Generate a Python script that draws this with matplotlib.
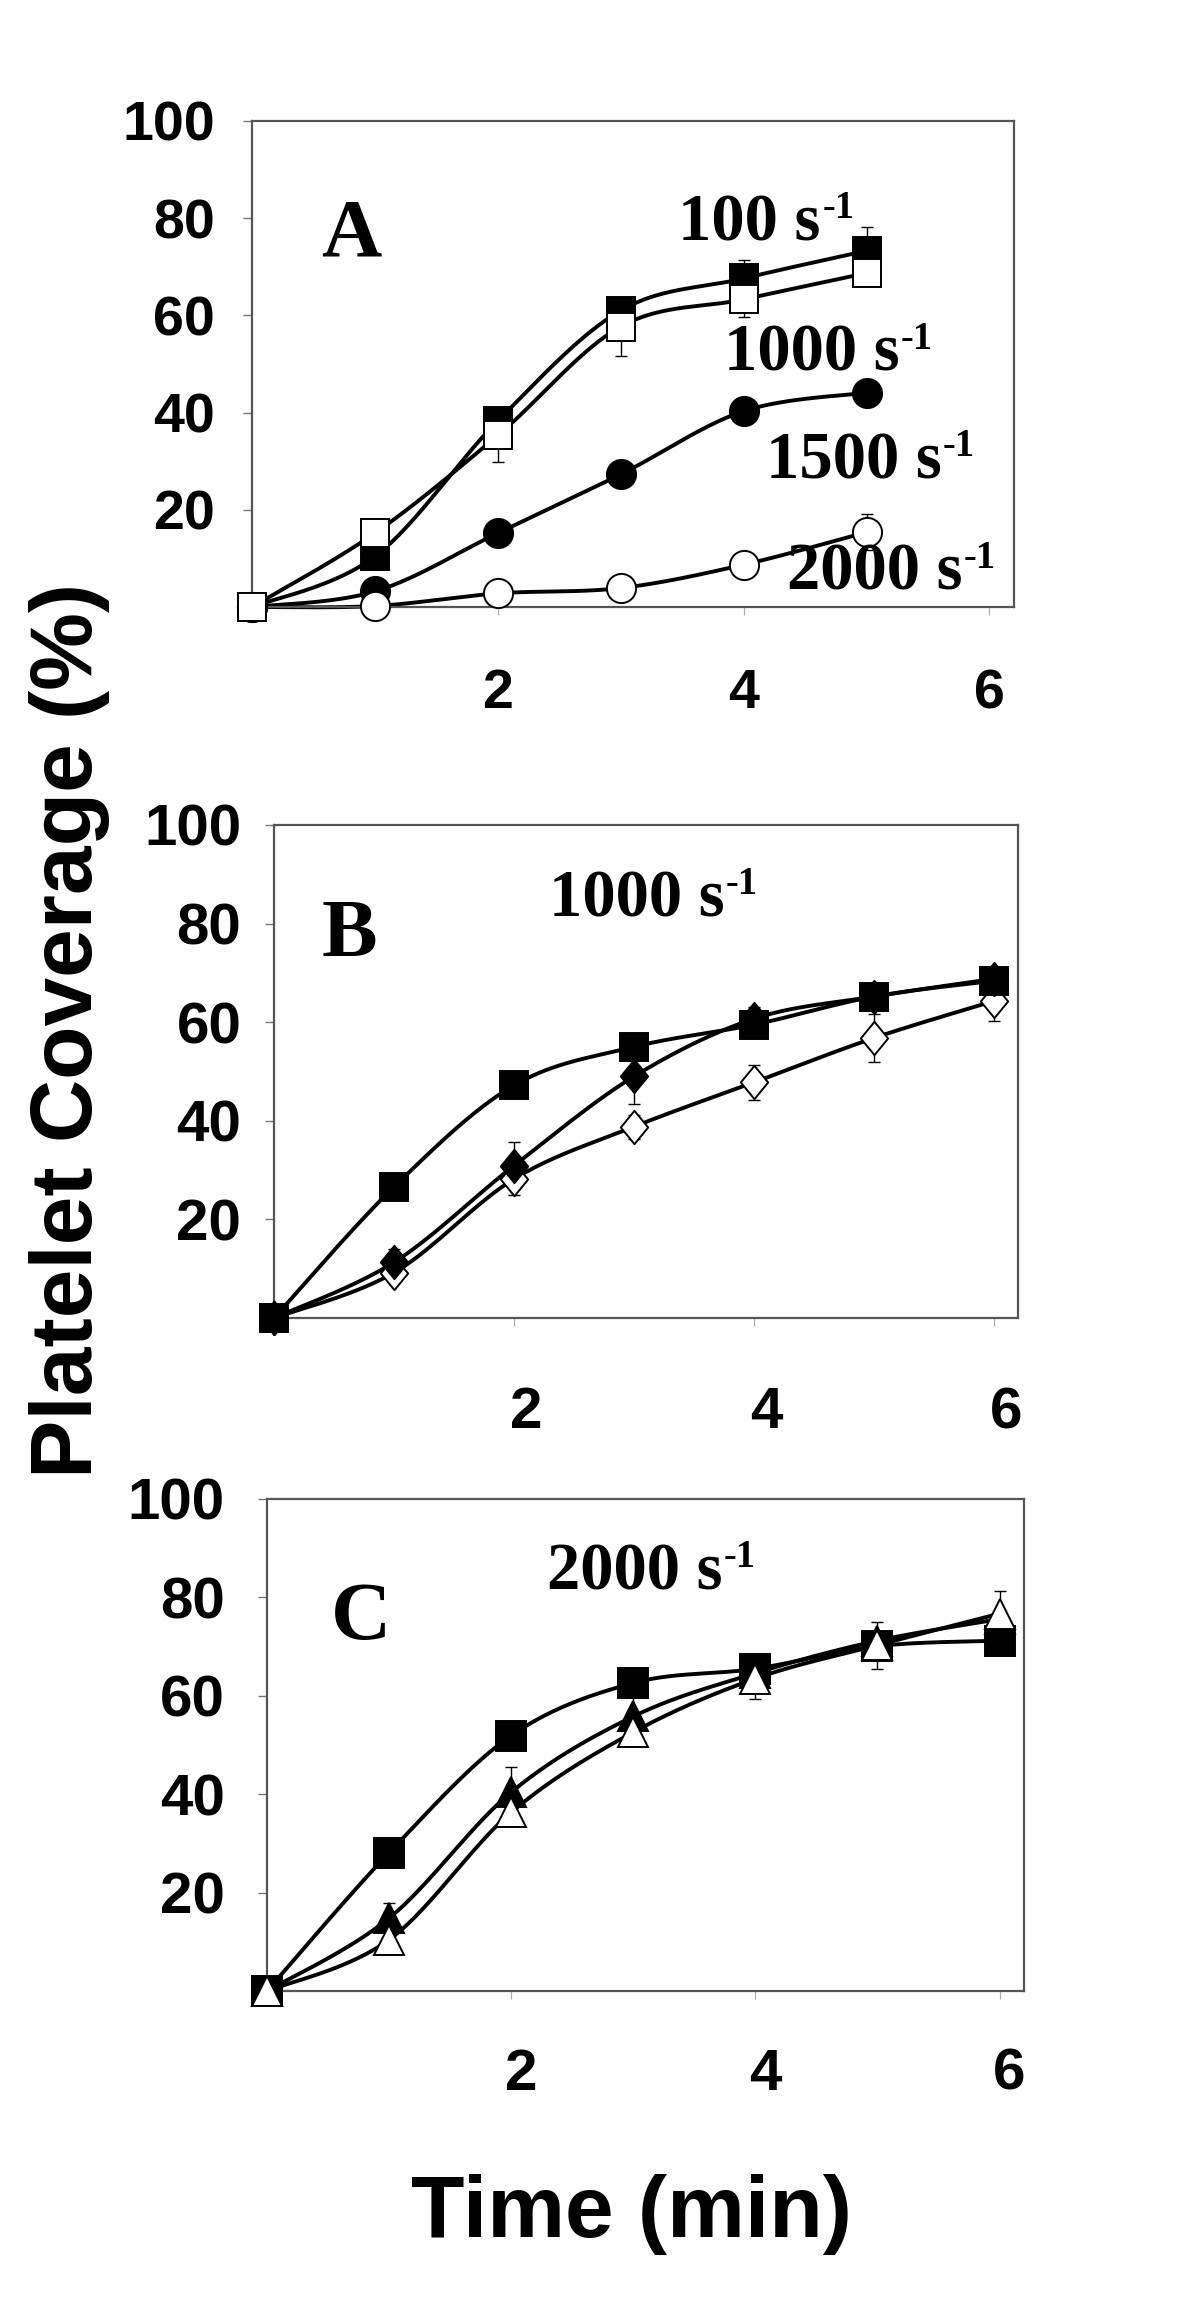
import numpy as np
import matplotlib
matplotlib.use("Agg")
import matplotlib.pyplot as plt
from matplotlib.path import Path
from matplotlib.transforms import ScaledTranslation

plt.rcParams['font.family'] = ['Liberation Sans', 'DejaVu Sans']
plt.rcParams['font.weight'] = 'bold'

# ---------------- data ----------------
time_a = [0, 1, 2, 3, 4, 5]
time_bc = [0, 1, 2, 3, 4, 5, 6]

# Panel A (shear rates)
a_100 = [0, 10.4, 38.3, 61.0, 67.6, 73.3]
a_100_err = [0, 0, 2.2, 2.1, 3.7, 4.9]
a_1000 = [0, 15.2, 35.3, 57.7, 63.3, 68.7]
a_1000_err = [0, 0, 5.4, 6.1, 3.6, 0]
a_1500 = [0, 3.2, 15.2, 27.3, 40.3, 44.1]
a_1500_err = [0, 0, 0, 0, 0, 0]
a_2000 = [0, 0.2, 2.8, 3.9, 8.7, 15.4]
a_2000_err = [0, 0, 0, 0, 0, 3.7]

# Panel B (1000 s-1)
b_sq = [0, 26.6, 47.2, 55.0, 59.5, 65.2, 68.4]
b_sq_err = [0, 0, 0, 0, 0, 0, 0]
b_fd = [0, 11.3, 30.9, 49.0, 60.7, 65.2, 68.8]
b_fd_err = [0, 2.6, 4.7, 5.6, 2.4, 0, 1.5]
b_od = [0, 9.2, 28.2, 38.8, 47.8, 56.8, 64.3]
b_od_err = [0, 0, 3.2, 2.4, 3.6, 4.9, 4.0]

# Panel C (2000 s-1)
c_sq = [0, 28.1, 51.9, 62.6, 65.5, 70.1, 71.2]
c_sq_err = [0, 0, 0, 0, 0, 0, 0]
c_ft = [0, 14.8, 40.4, 55.8, 64.6, 71.2, 75.6]
c_ft_err = [0, 3.1, 5.2, 4.0, 3.4, 2.0, 0]
c_ot = [0, 10.4, 36.3, 52.6, 63.5, 70.3, 76.7]
c_ot_err = [0, 0, 0, 0, 4.1, 4.8, 4.5]

x_ticks = [2, 4, 6]
x_ticklabels = ['2', '4', '6']
y_ticks = [0, 20, 40, 60, 80, 100]
y_ticklabels = ['', '20', '40', '60', '80', '100']

diamond = Path([(0, 1), (0.82, 0), (0, -1), (-0.82, 0), (0, 1)],
               [Path.MOVETO, Path.LINETO, Path.LINETO, Path.LINETO, Path.CLOSEPOLY])


def smooth(x, y, n=40):
    """Excel-like smoothed line (Catmull-Rom Bezier) through the data."""
    P = np.column_stack([np.asarray(x, float), np.asarray(y, float)])
    Pm = np.vstack([P[0], P, P[-1]])
    t = np.linspace(0, 1, n)[1:, None]
    out = [P[:1]]
    for i in range(len(P) - 1):
        p0, p3 = P[i], P[i + 1]
        c1 = p0 + (Pm[i + 2] - Pm[i]) / 6.0
        c2 = p3 - (Pm[i + 3] - Pm[i + 1]) / 6.0
        seg = (1 - t) ** 3 * p0 + 3 * (1 - t) ** 2 * t * c1 + 3 * (1 - t) * t ** 2 * c2 + t ** 3 * p3
        out.append(seg)
    return np.vstack(out)


def series(ax, x, y, err, marker, filled, ms):
    s = smooth(x, y)
    ax.plot(s[:, 0], s[:, 1], color='black', lw=2.8, zorder=2, clip_on=False,
            solid_capstyle='round')
    x = np.asarray(x, float); y = np.asarray(y, float); e = np.asarray(err, float)
    k = e > 0
    if k.any():
        ax.errorbar(x[k], y[k], yerr=e[k], fmt='none', ecolor='black',
                    elinewidth=1.0, capsize=4.5, capthick=1.0, zorder=2.5)
    ax.plot(x, y, ls='none', marker=marker, ms=ms,
            mfc='black' if filled else 'white', mec='black', mew=1.4,
            zorder=3, clip_on=False)


def rate_label(ax, x, y, main, size=48):
    t = ax.text(x, y, main, family='Liberation Serif', fontweight='bold',
                fontsize=size, va='baseline', ha='left', zorder=6)
    ax.annotate('-1', xy=(1, 1), xycoords=t, xytext=(1, 2), textcoords='offset points',
                family='Liberation Serif', fontweight='bold', fontsize=size * 0.58,
                va='top', ha='left', zorder=6)


def style_axes(ax, lsize, xpad, ypad, xshift_px):
    ax.set_xlim(0, 6.2)
    ax.set_ylim(0, 100)
    ax.set_xticks(x_ticks)
    ax.set_xticklabels(x_ticklabels)
    ax.set_yticks(y_ticks)
    ax.set_yticklabels(y_ticklabels)
    ax.tick_params(axis='y', direction='out', length=6.5, width=1.0, color='#777777',
                   pad=ypad, labelsize=lsize)
    ax.tick_params(axis='x', direction='out', length=6, width=0.8, color='#aaaaaa',
                   pad=xpad, labelsize=lsize)
    for lab in ax.get_xticklabels() + ax.get_yticklabels():
        lab.set_fontweight('bold')
    if xshift_px:
        off = ScaledTranslation(xshift_px / 100.0, 0, ax.figure.dpi_scale_trans)
        for lab in ax.get_xticklabels():
            lab.set_transform(lab.get_transform() + off)
    for sp in ax.spines.values():
        sp.set_color('#555555')
        sp.set_linewidth(1.6)


fig = plt.figure(figsize=(12, 23.22), dpi=100)
W, H = 1200.0, 2322.0


def rect(l, r, t, b):
    return [l / W, 1 - b / H, (r - l) / W, (b - t) / H]


# ---------------- Panel A ----------------
axA = fig.add_axes(rect(252, 1014, 121, 607))
series(axA, time_a, a_1500, a_1500_err, 'o', True, 21)
series(axA, time_a, a_2000, a_2000_err, 'o', False, 21)
series(axA, time_a, a_100, a_100_err, 's', True, 20)
series(axA, time_a, a_1000, a_1000_err, 's', False, 20)
style_axes(axA, 40, 38, 20, 0)
axA.text(0.56, 72.4, 'A', family='Liberation Serif', fontweight='bold', fontsize=60,
         va='baseline', ha='left', zorder=6)
rate_label(axA, 3.47, 75.5, '100 s')
rate_label(axA, 3.84, 48.6, '1000 s')
rate_label(axA, 4.18, 26.5, '1500 s')
rate_label(axA, 4.35, 3.5, '2000 s')

# ---------------- Panel B ----------------
axB = fig.add_axes(rect(274, 1018, 825, 1318))
series(axB, time_bc, b_od, b_od_err, diamond, False, 24)
series(axB, time_bc, b_fd, b_fd_err, diamond, True, 24)
series(axB, time_bc, b_sq, b_sq_err, 's', True, 20)
style_axes(axB, 42, 43, 17, 12)
axB.text(0.40, 73.4, 'B', family='Liberation Serif', fontweight='bold', fontsize=60,
         va='baseline', ha='left', zorder=6)
rate_label(axB, 2.29, 81.5, '1000 s')

# ---------------- Panel C ----------------
axC = fig.add_axes(rect(267, 1024, 1499, 1991))
series(axC, time_bc, c_sq, c_sq_err, 's', True, 21)
series(axC, time_bc, c_ft, c_ft_err, '^', True, 21)
series(axC, time_bc, c_ot, c_ot_err, '^', False, 21)
style_axes(axC, 42, 35, 24, 10)
axC.text(0.52, 71.5, 'C', family='Liberation Serif', fontweight='bold', fontsize=60,
         va='baseline', ha='left', zorder=6)
rate_label(axC, 2.29, 81.7, '2000 s')

# ---------------- shared labels ----------------
fig.text(70 / W, 1 - 1030 / H, 'Platelet Coverage (%)', rotation=90, ha='center',
         va='center', fontsize=63, fontweight='bold')
fig.text(632 / W, 1 - 2237 / H, 'Time (min)', ha='center', va='baseline',
         fontsize=63, fontweight='bold')

fig.savefig('out.png', dpi=100, facecolor='white')
